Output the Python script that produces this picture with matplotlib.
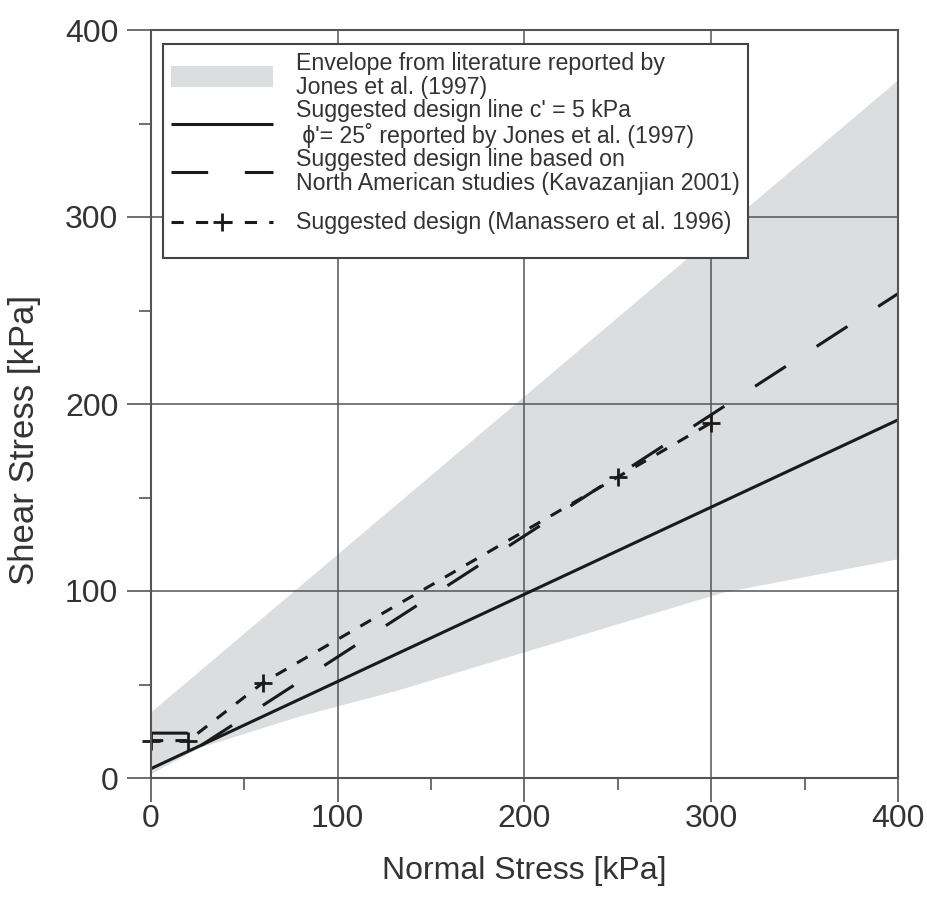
import matplotlib
matplotlib.use('Agg')
import matplotlib.pyplot as plt
from matplotlib.ticker import MultipleLocator

plt.rcParams['font.family'] = ['Liberation Sans', 'DejaVu Sans']

# envelope from literature (Jones et al. 1997)
env_upper_sigma = [0, 400]
env_upper_tau = [35, 373]
env_lower_sigma = [0, 26, 80, 133, 176, 306, 400]
env_lower_tau = [2, 16, 33, 47, 60, 99, 117]

# c' = 5 kPa, phi' = 25 deg (Jones et al. 1997)
jones_sigma = [0, 400]
jones_tau = [5, 191.5]

# Kavazanjian 2001
kav_sigma = [0, 20, 20, 400]
kav_tau = [24, 24, 13, 259]

# Manassero et al. 1996
man_sigma = [0, 20, 60, 250, 300]
man_tau = [20, 20, 51, 161, 190]

labels = [
    "Envelope from literature reported by\nJones et al. (1997)",
    "Suggested design line c' = 5 kPa\n \u03d5'= 25\u02da reported by Jones et al. (1997)",
    "Suggested design line based on\nNorth American studies (Kavazanjian 2001)",
    "\nSuggested design (Manassero et al. 1996)\n",
]

grey = '#555555'
txt = '#333333'

fig = plt.figure(figsize=(9.28, 9.0), dpi=100)
ax = fig.add_axes([151 / 928, 122 / 900, 747 / 928, 748 / 900])

poly_x = env_upper_sigma + env_lower_sigma[::-1]
poly_y = env_upper_tau + env_lower_tau[::-1]
env = ax.fill(poly_x, poly_y, color='#dcdddf', lw=0, zorder=1, label=labels[0])[0]

ax.grid(True, which='major', color=grey, lw=1.1, zorder=2)
ax.set_axisbelow(False)

l1, = ax.plot(jones_sigma, jones_tau, color='#1a1a1a', lw=2.2, zorder=3,
              solid_capstyle='butt', label=labels[1])
l2, = ax.plot(kav_sigma, kav_tau, color='#1a1a1a', lw=2.2, zorder=3,
              linestyle=(0, (12, 12)), label=labels[2])
l3, = ax.plot(man_sigma, man_tau, color='#1a1a1a', lw=2.2, zorder=4,
              linestyle=(0, (4, 4)), marker='+', ms=13, mew=2,
              clip_on=False, label=labels[3])

ax.set_xlim(0, 400)
ax.set_ylim(0, 400)
ax.xaxis.set_major_locator(MultipleLocator(100))
ax.yaxis.set_major_locator(MultipleLocator(100))
ax.xaxis.set_minor_locator(MultipleLocator(50))
ax.yaxis.set_minor_locator(MultipleLocator(50))
ax.tick_params(which='major', direction='out', length=17, width=1.2,
               color=grey, labelsize=23, labelcolor=txt)
ax.tick_params(axis='x', which='major', pad=2)
ax.tick_params(axis='y', which='major', pad=6.5)
ax.tick_params(which='minor', direction='out', length=8.5, width=1.2, color=grey)
for s in ax.spines.values():
    s.set_color(grey)
    s.set_linewidth(1.5)
    s.set_zorder(5)

ax.set_xlabel('Normal Stress [kPa]', fontsize=23, color=txt)
ax.set_ylabel('Shear Stress [kPa]', fontsize=25, color=txt)
ax.xaxis.set_label_coords(0.5, -0.104)
ax.yaxis.set_label_coords(-0.147, 0.452)

leg = ax.legend(handles=[env, l1, l2, l3], loc='upper left',
                bbox_to_anchor=(0.016, 0.981), borderaxespad=0,
                fontsize=16.7, handlelength=4.4, handleheight=1.0,
                handletextpad=1.0, labelspacing=0.0, borderpad=0.35,
                fancybox=False, framealpha=1, edgecolor='#444444')
leg.get_frame().set_linewidth(1.5)
leg.set_zorder(6)
for t in leg.get_texts():
    t.set_color(txt)
    t.set_linespacing(1.05)
leg.get_texts()[3].set_linespacing(0.6)

fig.savefig('out.png', dpi=100)
